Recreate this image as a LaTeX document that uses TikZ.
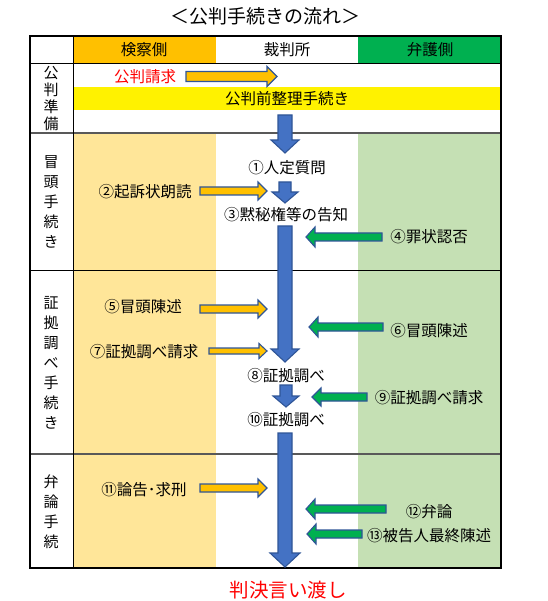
\documentclass[tikz,border=0pt]{standalone}
\usepackage{fontspec}
\setmainfont{Noto Sans CJK JP}
\definecolor{orhead}{HTML}{FFC000}
\definecolor{grhead}{HTML}{00B050}
\definecolor{orlite}{HTML}{FFE699}
\definecolor{grlite}{HTML}{C5E0B4}
\definecolor{arblue}{HTML}{4472C4}
\definecolor{arline}{HTML}{2F5597}
\definecolor{jred}{HTML}{FF0000}
\definecolor{sepgray}{HTML}{595959}
\tikzset{
  txt/.style={inner sep=0pt, font=\fontsize{15.5}{18}\selectfont},
  redtxt/.style={txt, text=jred},
  vlab/.style={inner sep=0pt, align=center, font=\fontsize{15}{20}\selectfont},
  orarrow/.style={fill=orhead, draw=arline, line width=1.1pt, line join=miter},
  grarrow/.style={fill=grhead, draw=arline, line width=1.1pt, line join=miter},
  blarrow/.style={fill=arblue, draw=arline, line width=1.1pt, line join=miter},
}
% right-pointing block arrow: style, x1, x2, y, half shaft, half head, head length
\newcommand\myRarrow[7]{\path[#1] (#2,#4-#5) -- (#3-#7,#4-#5) -- (#3-#7,#4-#6) -- (#3,#4) -- (#3-#7,#4+#6) -- (#3-#7,#4+#5) -- (#2,#4+#5) -- cycle;}
% left-pointing block arrow: style, x1 (tail), x2 (tip), y, half shaft, half head, head length
\newcommand\myLarrow[7]{\path[#1] (#2,#4-#5) -- (#3+#7,#4-#5) -- (#3+#7,#4-#6) -- (#3,#4) -- (#3+#7,#4+#6) -- (#3+#7,#4+#5) -- (#2,#4+#5) -- cycle;}
% down-pointing block arrow: style, x, y1, y2 (tip), half shaft, half head, head length
\newcommand\myDarrow[7]{\path[#1] (#2-#5,#3) -- (#2-#5,#4-#7) -- (#2-#6,#4-#7) -- (#2,#4) -- (#2+#6,#4-#7) -- (#2+#5,#4-#7) -- (#2+#5,#3) -- cycle;}
\begin{document}
\begin{tikzpicture}[x=1pt,y=-1pt]
\useasboundingbox (0,0) rectangle (547,601);
\fill[white] (0,0) rectangle (547,601);
% backgrounds
\fill[orhead] (73,36) rectangle (216,64);
\fill[grhead] (358,36) rectangle (501,64);
\fill[orlite] (73,133) rectangle (216,568);
\fill[grlite] (358,133) rectangle (501,568);
\fill[yellow] (73,87) rectangle (501,110);
% table lines
\draw[line width=1pt] (30,64) -- (501,64);
\draw[sepgray, line width=1.5pt] (30,133) -- (501,133);
\draw[line width=1pt] (30,270) -- (501,270);
\draw[sepgray, line width=1.5pt] (30,454) -- (501,454);
\draw[line width=1pt] (73,36) -- (73,568);
\draw[line width=1.3pt] (30,36) rectangle (501,568);
% title and headers
\node[inner sep=0pt, font=\fontsize{19}{22}\selectfont] (title) at (265,16) {＜公判手続きの流れ＞};
\node[txt] (hk) at (144,50) {検察側};
\node[txt] (hs) at (287,50) {裁判所};
\node[txt] (hb) at (430,50) {弁護側};
% row labels
\node[vlab, font=\fontsize{15}{17}\selectfont] (r1) at (51,98.5) {公\\判\\準\\備};
\node[vlab] (r2) at (51,202) {冒\\頭\\手\\続\\き};
\node[vlab] (r3) at (51,363) {証\\拠\\調\\べ\\手\\続\\き};
\node[vlab] (r4) at (51,512) {弁\\論\\手\\続};
% texts
\node[redtxt] (t0) at (145,77) {公判請求};
\node[txt] (tpre) at (287,99) {公判前整理手続き};
\node[txt] (t1) at (287,168) {①人定質問};
\node[txt] (t2) at (145,192) {②起訴状朗読};
\node[txt] (t3) at (286,215) {③黙秘権等の告知};
\node[txt] (t4) at (429,237) {④罪状認否};
\node[txt] (t5) at (143,307) {⑤冒頭陳述};
\node[txt] (t6) at (429,331) {⑥冒頭陳述};
\node[txt] (t7) at (144,352) {⑦証拠調べ請求};
\node[txt] (t8) at (286,376) {⑧証拠調べ};
\node[txt] (t9) at (429,398) {⑨証拠調べ請求};
\node[txt] (t10) at (286,420) {⑩証拠調べ};
\node[txt] (t11) at (144,490) {⑪論告･求刑};
\node[txt] (t12) at (429,512) {⑫弁論};
\node[txt] (t13) at (429,536) {⑬被告人最終陳述};
\node[inner sep=0pt, text=jred, font=\fontsize{19.5}{22}\selectfont] (verdict) at (288,590) {判決言い渡し};
% orange arrows
\myRarrow{orarrow}{186}{277}{76.5}{5}{10}{10}
\myRarrow{orarrow}{200}{267}{191}{4}{9}{9}
\myRarrow{orarrow}{200}{267}{309}{4}{9}{9}
\myRarrow{orarrow}{209}{267}{351}{3}{7.5}{8}
\myRarrow{orarrow}{200}{267}{488}{4}{9}{9}
% green arrows
\myLarrow{grarrow}{382}{306}{237}{4}{10}{9}
\myLarrow{grarrow}{383}{309}{327}{4}{10}{9}
\myLarrow{grarrow}{367}{312}{397}{4}{9}{9}
\myLarrow{grarrow}{386}{306}{509}{4}{10}{9}
\myLarrow{grarrow}{362}{307}{534}{4}{10}{9}
% blue arrows
\myDarrow{blarrow}{285}{115}{153}{7}{14}{13}
\myDarrow{blarrow}{285}{182}{203}{6}{13}{11}
\myDarrow{blarrow}{285}{226}{362}{7}{14}{13}
\myDarrow{blarrow}{286}{385}{407}{6}{13}{11}
\myDarrow{blarrow}{285}{433}{567}{7}{15}{14}
\end{tikzpicture}
\end{document}
